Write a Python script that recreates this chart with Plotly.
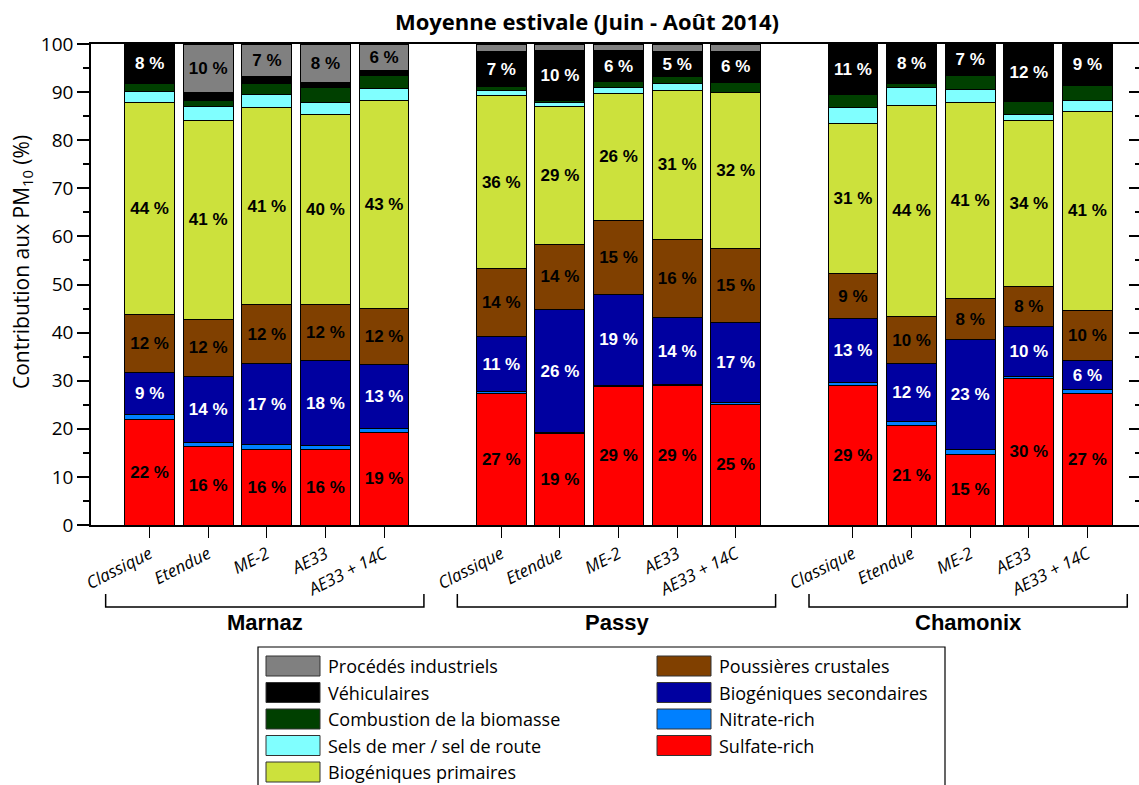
import plotly.graph_objects as go

# Sites and source-apportionment approaches
sites = ["Marnaz", "Passy", "Chamonix"]
methods = ["Classique", "Etendue", "ME-2", "AE33", "AE33 + 14C"]

# Contributions to PM10 (%), 5 methods per site: Marnaz, Passy, Chamonix
sulfate_rich = [21.9, 16.3, 15.6, 15.6, 19.2, 27.4, 19.0, 28.8, 29.0, 25.0, 28.9, 20.7, 14.7, 30.4, 27.3]
nitrate_rich = [1.0, 0.9, 1.2, 0.9, 0.9, 0.3, 0.2, 0.2, 0.2, 0.5, 0.8, 0.8, 0.9, 0.5, 0.8]
biogeniques_secondaires = [8.8, 13.6, 16.7, 17.7, 13.2, 11.4, 25.6, 19.0, 13.9, 16.6, 13.2, 12.0, 23.0, 10.3, 6.1]
poussieres_crustales = [12.1, 12.0, 12.3, 11.6, 11.7, 14.2, 13.6, 15.4, 16.3, 15.4, 9.4, 9.8, 8.4, 8.4, 10.4]
biogeniques_primaires = [44.0, 41.3, 41.0, 39.6, 43.2, 35.9, 28.6, 26.4, 31.0, 32.4, 31.2, 44.0, 40.8, 34.4, 41.4]
sels = [2.3, 3.0, 2.8, 2.5, 2.6, 1.1, 0.8, 1.2, 1.3, 0.0, 3.3, 3.7, 2.8, 1.3, 2.2]
biomasse = [1.6, 1.1, 2.1, 3.0, 2.6, 0.8, 0.5, 1.2, 1.5, 2.2, 2.6, 0.8, 2.8, 2.7, 3.2]
vehiculaires = [8.3, 1.7, 1.5, 1.1, 1.0, 7.4, 10.3, 6.4, 5.2, 6.4, 10.6, 8.2, 6.6, 12.0, 8.6]
industriels = [0.0, 10.1, 6.8, 8.0, 5.6, 1.5, 1.4, 1.4, 1.6, 1.5, 0.0, 0.0, 0.0, 0.0, 0.0]

# Stacking order, bottom to top
series_names = [
    "Sulfate-rich", "Nitrate-rich", "Biogéniques secondaires", "Poussières crustales",
    "Biogéniques primaires", "Sels de mer / sel de route", "Combustion de la biomasse",
    "Véhiculaires", "Procédés industriels",
]
series_values = [
    sulfate_rich, nitrate_rich, biogeniques_secondaires, poussieres_crustales,
    biogeniques_primaires, sels, biomasse, vehiculaires, industriels,
]
series_colors = ["#FF0000", "#0080FF", "#0000A0", "#804000", "#CCE13C",
                 "#80FFFF", "#004000", "#000000", "#808080"]
label_colors = ["black", "black", "white", "black", "black",
                "black", "black", "white", "black"]

# Legend layout: two columns
legend_col1 = ["Procédés industriels", "Véhiculaires", "Combustion de la biomasse",
               "Sels de mer / sel de route", "Biogéniques primaires"]
legend_col2 = ["Poussières crustales", "Biogéniques secondaires", "Nitrate-rich", "Sulfate-rich"]

# one empty slot between sites
x_pos = [g * 6 + i for g in range(len(sites)) for i in range(len(methods))]
tick_text = methods * len(sites)

W, H = 1139, 785
L, R, T, B = 91, 0, 44, 260
PW, PH = W - L - R, H - T - B


def px_x(px):
    return (px - L) / PW


def px_y(py):
    return (H - B - py) / PH


fig = go.Figure()

for name, vals, col, lc in zip(series_names, series_values, series_colors, label_colors):
    fig.add_trace(go.Bar(
        x=x_pos, y=vals, name=name, width=0.85,
        marker=dict(color=col, line=dict(color="black", width=1)),
        text=[f"{v:.0f} %" if v >= 5 else "" for v in vals],
        textposition="inside", insidetextanchor="middle", textangle=0,
        constraintext="none",
        textfont=dict(family="Liberation Sans", size=17, color=lc, weight="bold"),
        showlegend=False,
    ))

# carrier for the right-hand tick axis
fig.add_trace(go.Scatter(x=[None], y=[None], yaxis="y2", showlegend=False, hoverinfo="skip"))

shapes = []
annotations = []

# site brackets and names
for g, site in enumerate(sites):
    c = g * 6 + 2
    x0, x1 = c - 2.75, c + 2.68
    yb, yt = px_y(607), px_y(594)
    shapes.append(dict(type="path", xref="x", yref="paper",
                       path=f"M {x0},{yt} L {x0},{yb} L {x1},{yb} L {x1},{yt}",
                       line=dict(color="black", width=1.5)))
    annotations.append(dict(text=site, xref="x", yref="paper", x=c - 0.03, y=px_y(622),
                            showarrow=False, xanchor="center", yanchor="middle",
                            font=dict(family="Liberation Sans", size=22, color="black", weight="bold")))

# y-axis title
annotations.append(dict(text="Contribution aux PM<sub>10</sub> (%)", xref="paper", yref="paper",
                        x=px_x(22), y=px_y(262), textangle=-90, showarrow=False,
                        xanchor="center", yanchor="middle",
                        font=dict(family="Open Sans", size=21, color="black")))

# legend box
shapes.append(dict(type="rect", xref="paper", yref="paper",
                   x0=px_x(258), x1=px_x(945), y0=px_y(800), y1=px_y(647),
                   line=dict(color="black", width=1.2), fillcolor="white"))

color_of = dict(zip(series_names, series_colors))
row_y = [666, 692.5, 719, 745.5, 772]
for col_items, sx in ((legend_col1, 266), (legend_col2, 657)):
    for name, ry in zip(col_items, row_y):
        shapes.append(dict(type="rect", xref="paper", yref="paper",
                           x0=px_x(sx), x1=px_x(sx + 54), y0=px_y(ry + 10), y1=px_y(ry - 10),
                           line=dict(color="#333333", width=1), fillcolor=color_of[name]))
        annotations.append(dict(text=name, xref="paper", yref="paper",
                                x=px_x(sx + 60), y=px_y(ry), showarrow=False,
                                xanchor="left", yanchor="middle",
                                font=dict(family="Open Sans", size=18, color="black")))

fig.update_layout(
    width=W, height=H,
    margin=dict(l=L, r=R, t=T, b=B),
    paper_bgcolor="white", plot_bgcolor="white",
    barmode="stack",
    title=dict(text="Moyenne estivale (Juin - Août 2014)", x=587 / W,
               xanchor="center", y=1 - 22 / H, yanchor="middle",
               font=dict(family="Open Sans", size=22, color="black", weight="bold")),
    xaxis=dict(range=[-1, 16.88], tickvals=x_pos, ticktext=tick_text, tickangle=-27,
               ticks="outside", ticklen=11, tickwidth=1.3, tickcolor="black",
               showline=True, linecolor="black", linewidth=1.5, mirror=True,
               showgrid=False, zeroline=False,
               tickfont=dict(family="Open Sans", size=17, color="black", style="italic")),
    yaxis=dict(range=[0, 100], dtick=10, ticks="outside", ticklen=12, tickwidth=1.5,
               tickcolor="black", showline=True, linecolor="black", linewidth=1.5,
               showgrid=False, zeroline=False,
               minor=dict(dtick=5, ticks="outside", ticklen=6, tickwidth=1.5, tickcolor="black"),
               tickfont=dict(family="Open Sans", size=19, color="black")),
    yaxis2=dict(range=[0, 100], dtick=10, overlaying="y", side="right", ticks="inside",
                ticklen=10, tickwidth=1.5, tickcolor="black", showticklabels=False,
                showline=False, showgrid=False, zeroline=False,
                minor=dict(dtick=5, ticks="inside", ticklen=4, tickwidth=1.5, tickcolor="black")),
    shapes=shapes,
    annotations=annotations,
)

fig.write_html("out.html")
